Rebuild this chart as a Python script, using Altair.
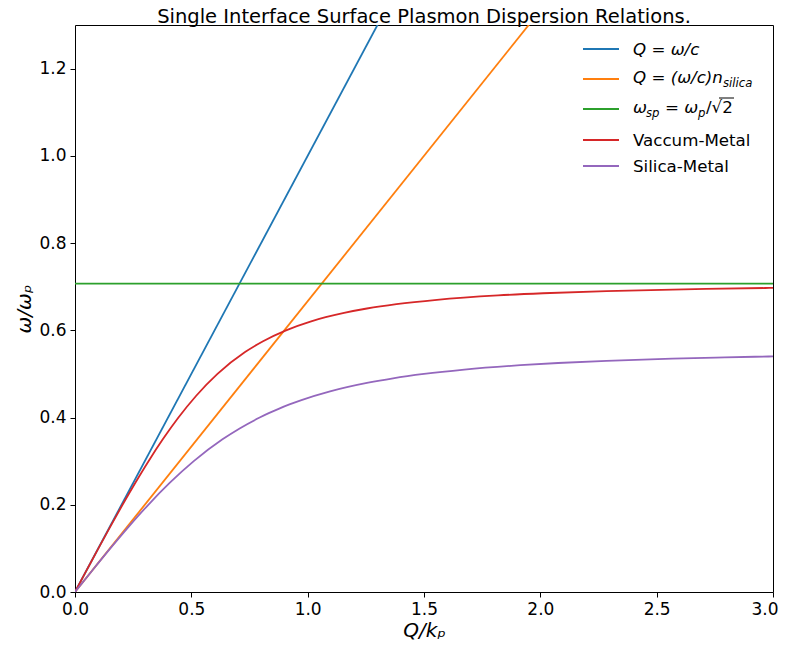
import altair as alt
import pandas as pd

# ---- data ----
series_names = ["light_vacuum", "light_silica", "wsp", "vacuum_metal", "silica_metal"]
series_colors = ["#1f77b4", "#ff7f0e", "#2ca02c", "#d62728", "#9467bd"]

light_vac_q = [0.0, 3.0]
light_vac_w = [0.0, 3.0]

light_sil_q = [0.0, 3.0]
light_sil_w = [0.0, 2.0]

wsp_q = [0.0, 3.0]
wsp_w = [0.7071, 0.7071]

vac_q = [0.0, 0.0501, 0.1005, 0.1518, 0.2043, 0.2588, 0.3160, 0.3773, 0.4446, 0.5210,
         0.6124, 0.7309, 0.8083, 0.9071, 1.0117, 1.0774, 1.1565, 1.2547, 1.3816, 1.5558,
         1.8182, 2.0116, 2.2843, 2.7121, 2.9667, 3.0]
vac_w = [0.0, 0.05, 0.10, 0.15, 0.20, 0.25, 0.30, 0.35, 0.40, 0.45,
         0.50, 0.55, 0.575, 0.60, 0.62, 0.63, 0.64, 0.65, 0.66, 0.67,
         0.68, 0.685, 0.69, 0.695, 0.697, 0.6972]

sil_q = [0.0, 0.0752, 0.1517, 0.2311, 0.3151, 0.4068, 0.5104, 0.6339, 0.7077, 0.7937,
         0.8328, 0.8753, 0.9218, 0.9733, 1.0963, 1.2602, 1.3670, 1.5, 1.6732, 1.9138,
         2.0762, 2.2846, 2.5668, 2.7933, 2.9811, 3.0]
sil_w = [0.0, 0.05, 0.10, 0.15, 0.20, 0.25, 0.30, 0.35, 0.375, 0.40,
         0.41, 0.42, 0.43, 0.44, 0.46, 0.48, 0.49, 0.50, 0.51, 0.52,
         0.525, 0.53, 0.535, 0.538, 0.54, 0.5402]

x_ticks = [0.0, 0.5, 1.0, 1.5, 2.0, 2.5, 3.0]
y_ticks = [0.0, 0.2, 0.4, 0.6, 0.8, 1.0, 1.2]

title_text = "Single Interface Surface Plasmon Dispersion Relations."

rows = []
for name, qs, ws in [
    ("light_vacuum", light_vac_q, light_vac_w),
    ("light_silica", light_sil_q, light_sil_w),
    ("wsp", wsp_q, wsp_w),
    ("vacuum_metal", vac_q, vac_w),
    ("silica_metal", sil_q, sil_w),
]:
    for i, (q, w) in enumerate(zip(qs, ws)):
        rows.append({"Q": q, "w": w, "s": name, "o": i})
df = pd.DataFrame(rows)

FONT = "DejaVu Sans"
W, H = 698, 567

x_axis = alt.Axis(
    values=x_ticks, format=".1f", title="Q/kₚ", titlePadding=3, labelFlush=False,
    labelAlign={"condition": {"test": "datum.value >= 3", "value": "right"}, "value": "center"},
    labelOffset={"condition": {"test": "datum.value >= 3", "value": 5}, "value": 0},
)

lines = alt.Chart(df).mark_line(clip=True, strokeWidth=1.8, interpolate="monotone").encode(
    x=alt.X("Q:Q", scale=alt.Scale(domain=[0, 3], nice=False, zero=False), axis=x_axis),
    y=alt.Y("w:Q", scale=alt.Scale(domain=[0, 1.3], nice=False, zero=False),
            axis=alt.Axis(values=y_ticks, format=".1f", title="ω/ωₚ", titlePadding=4,
                          labelFlush=False)),
    color=alt.Color("s:N", scale=alt.Scale(domain=series_names, range=series_colors), legend=None),
    order="o:Q",
)

one = alt.Data(values=[{"k": 0}])


def txt(x, y, s, size=16.67, italic=True, align="left"):
    return alt.Chart(one).mark_text(
        align=align, baseline="alphabetic", fontSize=size, font=FONT,
        fontStyle="italic" if italic else "normal", color="black"
    ).encode(x=alt.value(x), y=alt.value(y), text=alt.value(s))


def handle(y, color):
    return alt.Chart(one).mark_rule(color=color, strokeWidth=1.8).encode(
        x=alt.value(508), x2=alt.value(544), y=alt.value(y))


SUB = 11.7
legend_layers = [
    handle(24, series_colors[0]),
    handle(54, series_colors[1]),
    handle(84, series_colors[2]),
    handle(115, series_colors[3]),
    handle(141, series_colors[4]),
    txt(558, 30, "Q = ω/c"),
    txt(558, 58, "Q = (ω/c)n"),
    txt(648, 62, "silica", size=SUB),
    txt(558, 88, "ω"),
    txt(571, 92, "sp", size=SUB),
    txt(590, 88, "= ω"),
    txt(623, 92, "p", size=SUB),
    txt(631, 88, "/√2", italic=False),
    alt.Chart(one).mark_rule(color="black", strokeWidth=1).encode(
        x=alt.value(644), x2=alt.value(659), y=alt.value(73)),
    txt(558, 121, "Vaccum-Metal", italic=False),
    txt(558, 147, "Silica-Metal", italic=False),
]

title_layer = txt(W / 2, -2.5, title_text, size=19.5, italic=False, align="center")

chart = alt.layer(lines, *legend_layers, title_layer).properties(
    width=W, height=H,
    autosize=alt.AutoSizeParams(type="none"),
    padding={"left": 67, "top": 17, "right": 6, "bottom": 53},
).configure_view(stroke="black", strokeWidth=1).configure_axis(
    grid=False, domain=False, tickColor="black", tickSize=5, tickWidth=1,
    labelFont=FONT, labelFontSize=17, labelColor="black", labelPadding=4,
    titleFont=FONT, titleFontSize=20, titleFontWeight="normal", titleFontStyle="italic",
    titleColor="black",
)

chart.save("out.html", embed_options={"renderer": "svg", "actions": False})
